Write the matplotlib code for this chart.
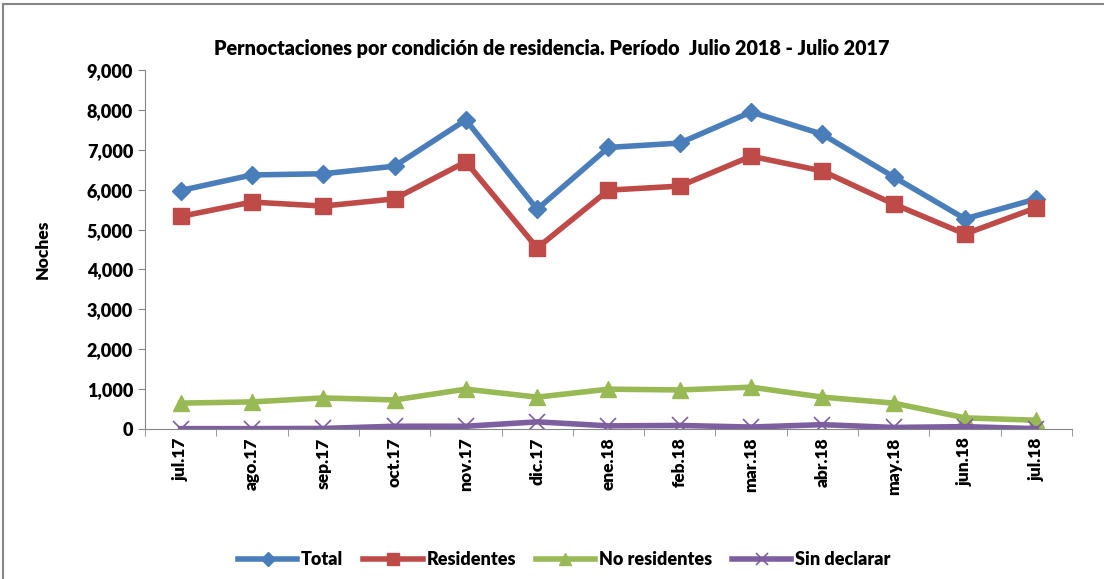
import numpy as np
import matplotlib.pyplot as plt
from matplotlib.patches import Rectangle

months = ['jul.17', 'ago.17', 'sep.17', 'oct.17', 'nov.17', 'dic.17', 'ene.18',
          'feb.18', 'mar.18', 'abr.18', 'may.18', 'jun.18', 'jul.18']

total = [5980, 6370, 6400, 6590, 7750, 5510, 7060, 7170, 7950, 7390, 6320, 5270, 5770]
residentes = [5330, 5690, 5590, 5770, 6700, 4540, 5990, 6090, 6840, 6470, 5640, 4890, 5550]
no_residentes = [650, 680, 780, 730, 1000, 800, 1000, 980, 1050, 800, 650, 280, 220]
sin_declarar = [10, 10, 15, 70, 70, 180, 80, 90, 50, 110, 40, 60, 10]

plt.rcParams['font.family'] = ['Lato', 'DejaVu Sans']
W = 'heavy'

fig = plt.figure(figsize=(11.04, 5.79), dpi=100)
ax = fig.add_axes([0.1313, 0.259, 0.8397, 0.62])

x = np.arange(len(months))
ax.plot(x, total, color='#4a7ebb', lw=4, marker='D', ms=9, label='Total')
ax.plot(x, residentes, color='#be4b48', lw=4, marker='s', ms=11, label='Residentes')
ax.plot(x, no_residentes, color='#98b954', lw=4, marker='^', ms=11, label='No residentes')
ax.plot(x, sin_declarar, color='#7d5fa0', lw=4, marker='x', ms=11, mew=1.2,
        label='Sin declarar')

ax.set_xlim(-0.5, len(months) - 0.5)
ax.set_ylim(0, 9000)
ax.set_yticks(np.arange(0, 9001, 1000))
ax.set_yticklabels([f'{v:,}' for v in range(0, 9001, 1000)], fontsize=13, fontweight=W)
ax.set_xticks(x)
ax.set_xticklabels(months, rotation=90, fontsize=12.5, fontweight=W)
ax.set_xticks(np.arange(-0.5, len(months), 1), minor=True)
ax.tick_params(axis='x', which='major', length=0, pad=6)
ax.tick_params(axis='x', which='minor', length=5, color='#868686')
ax.tick_params(axis='y', length=5, color='#868686')
for side in ['top', 'right']:
    ax.spines[side].set_visible(False)
for side in ['left', 'bottom']:
    ax.spines[side].set_color('#868686')

ax.set_ylabel('Noches', fontsize=12.5, fontweight=W, labelpad=26)
fig.text(0.5, 0.917, 'Pernoctaciones por condición de residencia. Período  Julio 2018 - Julio 2017',
         ha='center', va='center', fontsize=14.2, fontweight=W)

fig.legend(loc='center', bbox_to_anchor=(0.511, 0.033), ncol=4, frameon=False,
           prop={'size': 13, 'weight': W}, handlelength=3.3, columnspacing=1.1,
           handletextpad=0.2, markerscale=0.75)

fig.patches.append(Rectangle((0.003, -0.1), 1.1, 1.093, transform=fig.transFigure,
                             fill=False, edgecolor='#868686', lw=1.5))

fig.savefig('out.png', dpi=100)
